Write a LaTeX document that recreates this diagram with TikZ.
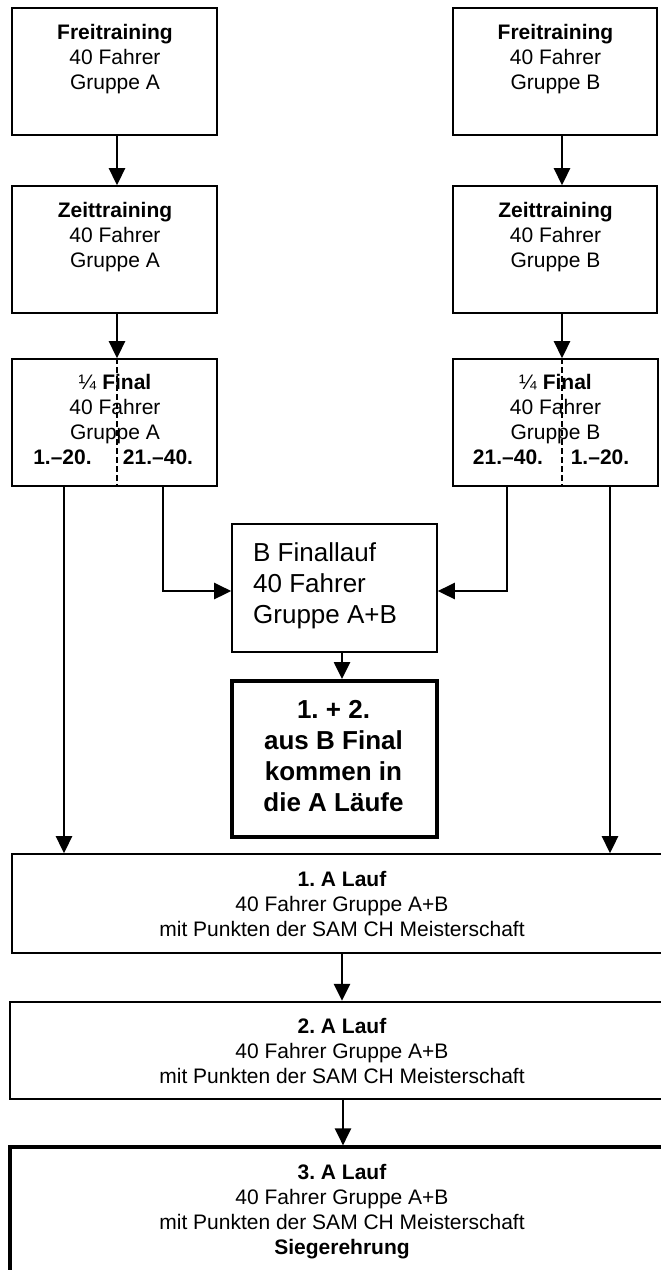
\documentclass[tikz,border=0pt]{standalone}
\usepackage{fontspec}
\setmainfont{Liberation Sans}
\usetikzlibrary{arrows.meta}
\frenchspacing
\begin{document}
\begin{tikzpicture}[x=1pt,y=-1pt,
  box/.style={draw, line width=1.6pt, inner sep=0pt},
  txt/.style={inner sep=0pt, align=center, anchor=north, font=\fontsize{21}{25}\selectfont},
  smalltxt/.style={inner sep=0pt, anchor=center, font=\fontsize{21}{25}\selectfont\bfseries},
  bigtxt/.style={inner sep=0pt, font=\fontsize{26}{31}\selectfont},
  conn/.style={line width=2.6pt, -{Triangle[length=17pt,width=16pt]}},
  sepline/.style={line width=1.4pt, dash pattern=on 6pt off 3pt}]
\useasboundingbox (0,0) rectangle (661,1270);
\clip (0,0) rectangle (661,1270);

% boxes
\node[box, minimum width=205pt, minimum height=127pt] (fa) at (114.5,71.5) {};
\node[box, minimum width=204pt, minimum height=127pt] (fb) at (555,71.5) {};
\node[box, minimum width=205pt, minimum height=127pt] (za) at (114.5,249.5) {};
\node[box, minimum width=204pt, minimum height=127pt] (zb) at (555,249.5) {};
\node[box, minimum width=205pt, minimum height=127pt] (qa) at (114.5,422.5) {};
\node[box, minimum width=205pt, minimum height=127pt] (qb) at (555.5,422.5) {};
\node[box, minimum width=205pt, minimum height=128pt] (bf) at (334.5,588) {};
\node[box, line width=4pt, minimum width=205pt, minimum height=156pt] (bb) at (334.5,759) {};
\node[box, minimum width=660pt, minimum height=99pt] (l1) at (342,903.5) {};
\node[box, line width=2.4pt, minimum width=662pt, minimum height=97pt] (l2) at (341,1050.5) {};
\node[box, line width=3.2pt, minimum width=662pt, minimum height=143pt] (l3) at (341,1218.5) {};

% texts
\node[txt] (tfa) at (115,24.2) {\textbf{Freitraining}\\40 Fahrer\\Gruppe A};
\node[txt] (tfb) at (555.5,24.2) {\textbf{Freitraining}\\40 Fahrer\\Gruppe B};
\node[txt] (tza) at (115,202.2) {\textbf{Zeittraining}\\40 Fahrer\\Gruppe A};
\node[txt] (tzb) at (555.5,202.2) {\textbf{Zeittraining}\\40 Fahrer\\Gruppe B};
\node[txt] (tqa) at (115,374.2) {¼ \textbf{Final}\\40 Fahrer\\Gruppe A};
\node[txt] (tqb) at (555.5,374.2) {¼ \textbf{Final}\\40 Fahrer\\Gruppe B};
\node[smalltxt] (qa1) at (62.5,457) {1.–20.};
\node[smalltxt] (qa2) at (158,457) {21.–40.};
\node[smalltxt] (qb1) at (508,457) {21.–40.};
\node[smalltxt] (qb2) at (600,457) {1.–20.};
\node[bigtxt, align=left, anchor=north west] (tbf) at (253,542.3) {B Finallauf\\40 Fahrer\\Gruppe A+B};
\node[bigtxt, align=center, anchor=north, font=\fontsize{26}{31}\selectfont\bfseries] (tbb) at (333.5,700.3) {1. + 2.\\aus B Final\\kommen in\\die A Läufe};
\node[txt] (tl1) at (342,871.2) {\textbf{1. A Lauf}\\40 Fahrer Gruppe A+B\\mit Punkten der SAM CH Meisterschaft};
\node[txt] (tl2) at (342,1018.2) {\textbf{2. A Lauf}\\40 Fahrer Gruppe A+B\\mit Punkten der SAM CH Meisterschaft};
\node[txt] (tl3) at (342,1164.2) {\textbf{3. A Lauf}\\40 Fahrer Gruppe A+B\\mit Punkten der SAM CH Meisterschaft\\\textbf{Siegerehrung}};

% dashed separators
\draw[sepline] ([xshift=2.5pt]qa.north) -- ([xshift=2.5pt]qa.south);
\draw[sepline] ([xshift=6.5pt]qb.north) -- ([xshift=6.5pt]qb.south);

% connectors
\draw[conn] ([xshift=2.5pt]fa.south) -- ([xshift=2.5pt]za.north);
\draw[conn] ([xshift=7pt]fb.south) -- ([xshift=7pt]zb.north);
\draw[conn] ([xshift=2.5pt]za.south) -- ([xshift=2.5pt]qa.north);
\draw[conn] ([xshift=7pt]zb.south) -- ([xshift=6.5pt]qb.north);

\coordinate (qaL) at ([xshift=-50.5pt]qa.south);
\coordinate (qaR) at ([xshift=48.5pt]qa.south);
\coordinate (qbL) at ([xshift=-48.5pt]qb.south);
\coordinate (qbR) at ([xshift=54.5pt]qb.south);

\draw[conn] (qaL) -- (qaL |- l1.north);
\draw[conn] (qbR) -- (qbR |- l1.north);
\draw[conn] (qaR) |- ([yshift=-3pt]bf.west);
\draw[conn] (qbL) |- ([yshift=-3pt]bf.east);

\draw[conn] ([xshift=7.5pt]bf.south) -- ([xshift=7.5pt]bb.north);
\draw[conn] (l1.south) -- (l1.south |- l2.north);
\draw[conn] ([xshift=2pt]l2.south) -- ([xshift=2pt]l3.north);
\end{tikzpicture}
\end{document}
